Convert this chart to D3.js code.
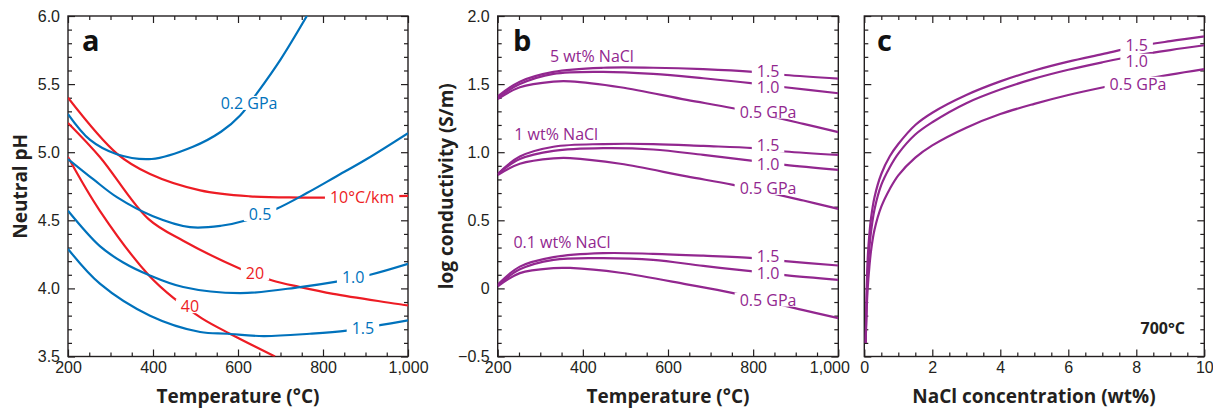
<!DOCTYPE html>
<html>
<head>
  <meta charset="UTF-8">
  <title>pH and conductivity</title>
  <style>
    body { margin: 0; background: #fff; }
    svg { font-family: "Open Sans", sans-serif; }
    .tick text { font-size: 16px; fill: #231f20; }
    .tick line { stroke: #231f20; stroke-width: 1.2; }
  </style>
</head>
<body>
<svg></svg>
<script src="https://d3js.org/d3.v7.min.js"></script>
<script>

let width = 1213, height = 409;

// ---- panel a: neutral pH vs temperature, [T, pH] ----
const phP02 = [[200,5.28],[252,5.09],[315,4.985],[397,4.95],[494,5.04],[560,5.15],[605,5.27],[644,5.43],[700,5.68],[762,6.0]];
const phP05 = [[200,4.95],[260,4.80],[315,4.67],[400,4.53],[487,4.45],[560,4.46],[620,4.50],[691,4.585],[762,4.70],[830,4.82],[903,4.95],[1000,5.14]];
const phP10 = [[200,4.57],[275,4.31],[330,4.19],[389,4.10],[471,4.01],[605,3.965],[746,4.01],[832,4.05],[911,4.10],[1000,4.18]];
const phP15 = [[200,4.29],[275,4.035],[393,3.80],[511,3.68],[575,3.667],[660,3.65],[769,3.667],[856,3.69],[934,3.73],[1000,3.765]];
const phG10 = [[200,5.40],[315,4.99],[393,4.84],[511,4.72],[628,4.676],[746,4.667],[850,4.667],[1000,4.68]];
const phG20 = [[200,5.215],[275,4.965],[389,4.51],[471,4.35],[605,4.145],[679,4.06],[746,4.01],[824,3.96],[1000,3.875]];
const phG40 = [[200,4.965],[275,4.57],[389,4.10],[448,3.93],[515,3.78],[581,3.667],[687,3.5]];

// ---- panel b: log conductivity vs temperature, [T, log S/m] ----
const s5p15 = [[200,1.41],[252,1.518],[331,1.59],[448,1.62],[565,1.62],[683,1.61],[800,1.59],[875,1.567],[1000,1.54]];
const s5p10 = [[200,1.40],[252,1.50],[331,1.575],[448,1.59],[565,1.575],[683,1.543],[800,1.506],[875,1.477],[1000,1.433]];
const s5p05 = [[200,1.39],[252,1.477],[331,1.518],[370,1.52],[488,1.477],[644,1.384],[753,1.323],[918,1.208],[1000,1.147]];
const s1p15 = [[200,0.84],[252,0.968],[331,1.04],[448,1.06],[565,1.06],[683,1.046],[800,1.03],[875,1.005],[1000,0.98]];
const s1p10 = [[200,0.84],[252,0.95],[331,1.01],[448,1.03],[565,1.02],[683,0.98],[800,0.936],[875,0.907],[1000,0.87]];
const s1p05 = [[200,0.833],[252,0.915],[331,0.955],[370,0.957],[488,0.915],[644,0.822],[753,0.76],[918,0.645],[1000,0.584]];
const s01p15 = [[200,0.027],[252,0.16],[331,0.23],[448,0.259],[565,0.254],[683,0.24],[800,0.222],[875,0.2],[1000,0.168]];
const s01p10 = [[200,0.02],[252,0.14],[331,0.21],[448,0.222],[565,0.21],[683,0.165],[800,0.125],[875,0.098],[1000,0.063]];
const s01p05 = [[200,0.014],[252,0.112],[331,0.149],[370,0.15],[488,0.115],[644,0.03],[753,-0.035],[918,-0.16],[1000,-0.218]];

// ---- panel c: log conductivity vs NaCl at 700 C ----
const nacl = [0.04,0.07,0.1,0.15,0.2,0.3,0.5,0.75,1,1.5,2,3,4,5,6,7,8,9,10];
const cP05 = [-0.4,-0.15,0.0,0.16,0.28,0.43,0.6,0.73,0.83,0.96,1.05,1.18,1.28,1.355,1.42,1.475,1.525,1.57,1.61];
const cP10 = [-0.4,-0.08,0.12,0.3,0.42,0.58,0.76,0.89,0.99,1.13,1.22,1.36,1.46,1.54,1.605,1.66,1.71,1.75,1.785];
const cP15 = [-0.4,0.0,0.22,0.4,0.52,0.67,0.84,0.97,1.06,1.2,1.29,1.42,1.52,1.6,1.665,1.72,1.775,1.815,1.85];

// curve labels: [text, x, y] in data units
const labelsA = [["0.2 GPa",626,5.36],["0.5",652,4.544],["1.0",871,4.081],["1.5",894,3.706]];
const labelsARed = [["10°C/km",892,4.669],["20",640,4.11],["40",487,3.868]];
const labelsB = [["1.5",835,1.596],["1.0",835,1.474],["0.5 GPa",835,1.296],
                 ["1.5",835,1.048],["1.0",835,0.914],["0.5 GPa",835,0.736],
                 ["1.5",835,0.239],["1.0",835,0.112],["0.5 GPa",835,-0.084]];
const saltLabels = [["5 wt% NaCl",323,1.707],["1 wt% NaCl",239,1.134],["0.1 wt% NaCl",237,0.342]];
const labelsC = [["1.5",8.01,1.787],["1.0",8.01,1.67],["0.5 GPa",8.05,1.501]];

const blue = "#0072bc", red = "#ed1c24", purple = "#92278f", ink = "#231f20";

let svg = d3.select("svg")
    .attr("width", width)
    .attr("height", height);

let top0 = 16, bottom0 = 356.5;

function frame(g, x, y, xMajor, xMinor, yMajor, yMinor, fmtX, fmtY, id) {
    let h = bottom0, w0 = x.range()[0], w1 = x.range()[1];
    // bottom
    g.append("g").attr("class", "xaxis").attr("transform", "translate(0," + h + ")")
        .call(d3.axisBottom(x).tickValues(xMajor).tickSizeInner(-7).tickSizeOuter(0).tickPadding(5).tickFormat(fmtX));
    g.append("g").attr("transform", "translate(0," + h + ")")
        .call(d3.axisBottom(x).tickValues(xMinor).tickSizeInner(-4).tickSizeOuter(0).tickFormat(""));
    // top
    g.append("g").attr("transform", "translate(0," + top0 + ")")
        .call(d3.axisTop(x).tickValues(xMajor).tickSizeInner(-7).tickSizeOuter(0).tickFormat(""));
    g.append("g").attr("transform", "translate(0," + top0 + ")")
        .call(d3.axisTop(x).tickValues(xMinor).tickSizeInner(-4).tickSizeOuter(0).tickFormat(""));
    // left
    g.append("g").attr("transform", "translate(" + w0 + ",0)")
        .call(d3.axisLeft(y).tickValues(yMajor).tickSizeInner(-7).tickSizeOuter(0).tickPadding(8).tickFormat(fmtY));
    g.append("g").attr("transform", "translate(" + w0 + ",0)")
        .call(d3.axisLeft(y).tickValues(yMinor).tickSizeInner(-4).tickSizeOuter(0).tickFormat(""));
    // right
    g.append("g").attr("transform", "translate(" + w1 + ",0)")
        .call(d3.axisRight(y).tickValues(yMajor).tickSizeInner(-7).tickSizeOuter(0).tickFormat(""));
    g.append("g").attr("transform", "translate(" + w1 + ",0)")
        .call(d3.axisRight(y).tickValues(yMinor).tickSizeInner(-4).tickSizeOuter(0).tickFormat(""));
    g.selectAll(".domain").remove();

    g.append("rect")
        .attr("x", w0).attr("y", top0)
        .attr("width", w1 - w0).attr("height", h - top0)
        .attr("fill", "none").attr("stroke", ink).attr("stroke-width", 1.4);

    g.append("clipPath").attr("id", "clip-" + id)
      .append("rect")
        .attr("x", w0).attr("y", top0)
        .attr("width", w1 - w0).attr("height", h - top0);
}

function curves(g, x, y, list, color, id) {
    let line = d3.line().x(d => x(d[0])).y(d => y(d[1])).curve(d3.curveCatmullRom.alpha(0.5));
    g.append("g")
        .attr("clip-path", "url(#clip-" + id + ")")
        .selectAll("path")
        .data(list)
        .enter()
        .append("path")
        .attr("d", line)
        .attr("fill", "none")
        .attr("stroke", color)
        .attr("stroke-width", 2.2);
}

function curveLabels(g, x, y, list, color) {
    let lg = g.append("g");
    list.forEach(l => {
        let t = lg.append("text")
            .attr("x", x(l[1]))
            .attr("y", y(l[2]))
            .attr("dy", "0.36em")
            .attr("text-anchor", "middle")
            .attr("fill", color)
            .style("font-size", "16px")
            .text(l[0]);
        let b = t.node().getBBox();
        lg.insert("rect", "text")
            .attr("x", b.x - 5).attr("y", b.y + 4)
            .attr("width", b.width + 10).attr("height", b.height - 8)
            .attr("fill", "#fff");
    });
}

function panelLetter(g, x, txt) {
    g.append("text")
        .attr("x", x).attr("y", 51)
        .style("font-size", "29px").style("font-weight", "bold")
        .attr("fill", "#111")
        .text(txt);
}

function xTitle(g, cx, txt) {
    g.append("text")
        .attr("x", cx).attr("y", 403)
        .attr("text-anchor", "middle")
        .style("font-size", "19px").style("font-weight", "bold")
        .attr("fill", ink)
        .text(txt);
}

function yTitle(g, bx, txt) {
    g.append("text")
        .attr("transform", "translate(" + bx + "," + ((top0 + bottom0) / 2) + ") rotate(-90)")
        .attr("text-anchor", "middle")
        .style("font-size", "19px").style("font-weight", "bold")
        .attr("fill", ink)
        .text(txt);
}

let tempMajor = [200, 400, 600, 800, 1000];
let tempMinor = d3.range(250, 1000, 50).filter(v => v % 200 !== 0);
let fmtTemp = d3.format(",");

// ---------- panel a ----------
let xa = d3.scaleLinear().domain([200, 1000]).range([68, 408]);
let ya = d3.scaleLinear().domain([3.5, 6.0]).range([bottom0, top0]);
let ga = svg.append("g");
frame(ga, xa, ya, tempMajor, tempMinor,
    [3.5, 4.0, 4.5, 5.0, 5.5, 6.0],
    d3.range(36, 60).filter(v => v % 5 !== 0).map(v => v / 10),
    fmtTemp, d3.format(".1f"), "a");
curves(ga, xa, ya, [phG10, phG20, phG40], red, "a");
curves(ga, xa, ya, [phP02, phP05, phP10, phP15], blue, "a");
curveLabels(ga, xa, ya, labelsA, blue);
curveLabels(ga, xa, ya, labelsARed, red);
panelLetter(ga, 82, "a");
xTitle(ga, 238, "Temperature (°C)");
yTitle(ga, 27, "Neutral pH");

// ---------- panel b ----------
let xb = d3.scaleLinear().domain([200, 1000]).range([497.7, 838.3]);
let yb = d3.scaleLinear().domain([-0.5, 2.0]).range([bottom0, top0]);
let condMajor = [-0.5, 0, 0.5, 1.0, 1.5, 2.0];
let condMinor = d3.range(-4, 20).filter(v => v % 5 !== 0).map(v => v / 10);
let fmtCond = d => d === 0 ? "0" : d3.format(".1f")(d);
let gb = svg.append("g");
frame(gb, xb, yb, tempMajor, tempMinor, condMajor, condMinor, fmtTemp, fmtCond, "b");
// last label nudged left so it clears panel c's "0"
gb.select(".xaxis").selectAll(".tick text").filter(d => d === 1000).attr("dx", -9);
curves(gb, xb, yb, [s5p15, s5p10, s5p05, s1p15, s1p10, s1p05, s01p15, s01p10, s01p05], purple, "b");
curveLabels(gb, xb, yb, labelsB, purple);
gb.selectAll("text.salt")
    .data(saltLabels)
    .enter()
    .append("text")
    .attr("class", "salt")
    .attr("x", d => xb(d[1]))
    .attr("y", d => yb(d[2]))
    .attr("dy", "0.36em")
    .attr("fill", purple)
    .style("font-size", "16px")
    .text(d => d[0]);
panelLetter(gb, 513, "b");
xTitle(gb, 668, "Temperature (°C)");
yTitle(gb, 453, "log conductivity (S/m)");

// ---------- panel c ----------
let xc = d3.scaleLinear().domain([0, 10]).range([864.3, 1204.3]);
let yc = d3.scaleLinear().domain([-0.5, 2.0]).range([bottom0, top0]);
let gc = svg.append("g");
frame(gc, xc, yc, [0, 2, 4, 6, 8, 10], d3.range(1, 20).filter(v => v % 4 !== 0).map(v => v / 2),
    condMajor, condMinor, d3.format("d"), () => "", "c");
let cSeries = [cP05, cP10, cP15].map(vals => vals.map((v, i) => [nacl[i], v]));
curves(gc, xc, yc, cSeries, purple, "c");
curveLabels(gc, xc, yc, labelsC, purple);
gc.append("text")
    .attr("x", 1185).attr("y", 334)
    .attr("text-anchor", "end")
    .style("font-size", "16px").style("font-weight", "bold")
    .attr("fill", ink)
    .text("700°C");
panelLetter(gc, 877, "c");
xTitle(gc, 1034, "NaCl concentration (wt%)");

</script>

</body>
</html>
